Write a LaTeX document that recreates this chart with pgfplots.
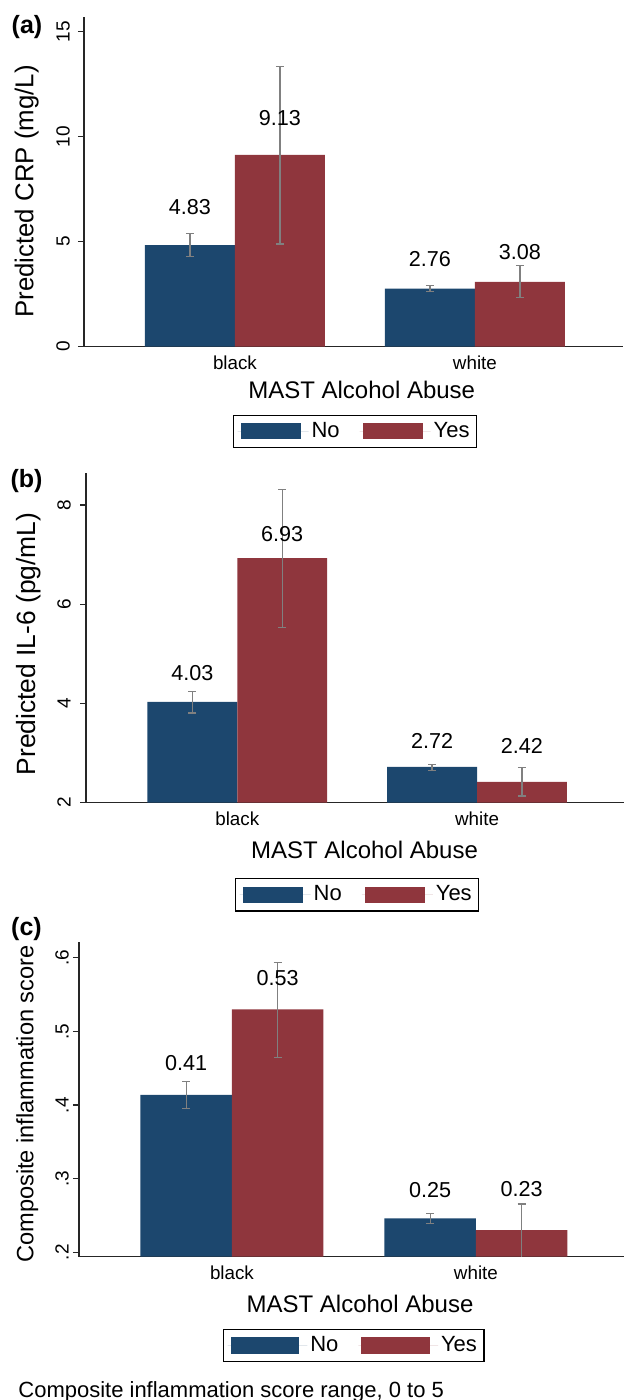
\documentclass[border=0pt]{standalone}
\usepackage{pgfplots}
\pgfplotsset{compat=1.18}
\usepackage{fontspec}
\setmainfont{Liberation Sans}
\definecolor{navyS}{RGB}{28,71,110}
\definecolor{maroonS}{RGB}{143,54,61}
\definecolor{errgray}{RGB}{128,128,128}
\def\legw{30pt}
\pgfplotsset{
  legend image code/.code={\path (-1.5pt,0pt) -- (\legw+4pt,0pt); \fill[#1] (0pt,-4pt) rectangle (\legw,4pt);},
  stpanel/.style={
    scale only axis,
    axis x line*=bottom, axis y line*=left,
    axis line style={black!85, line width=0.6pt},
    xtick={0,1}, xticklabels={black,white},
    x tick style={draw=none},
    y tick style={black!85, line width=0.6pt},
    tick align=outside,
    major tick length=3pt,
    yticklabel style={font=\fontsize{9.5}{11}\selectfont},
    xticklabel style={font=\fontsize{9.4}{11}\selectfont, anchor=base, yshift=-8.3pt},
    /pgf/number format/assume math mode=true,
    legend columns=2,
    legend style={draw=black, line width=0.6pt, font=\fontsize{11}{13}\selectfont,
      anchor=center, inner xsep=2pt, inner ysep=2.5pt,
      nodes={inner xsep=1.5pt, inner ysep=1pt},
      /tikz/every even column/.append style={column sep=8.5pt}},
    clip=true,
  },
  barNo/.style={ybar, bar width=0.375, bar shift=0pt, fill=navyS, draw=none,
    error bars/.cd, y dir=both, y explicit,
    error bar style={draw=errgray, line width=0.6pt},
    error mark options={rotate=90, draw=errgray, line width=0.6pt, mark size=2pt}},
  barYes/.style={ybar, bar width=0.375, bar shift=0pt, fill=maroonS, draw=none,
    error bars/.cd, y dir=both, y explicit,
    error bar style={draw=errgray, line width=0.6pt},
    error mark options={rotate=90, draw=errgray, line width=0.6pt, mark size=2pt}},
  vlab/.style={draw=none, mark=none, forget plot, nodes near coords,
    point meta=explicit symbolic, nodes near coords align={center},
    nodes near coords style={anchor=center, inner sep=0pt, text=black,
      font=\fontsize{10.8}{12}\selectfont}},
}
\begin{document}
\begin{tikzpicture}
\useasboundingbox (0pt,0pt) rectangle (312.5pt,700pt);
% ---------------- panel (a)
\def\legw{30pt}
\begin{axis}[stpanel, at={(42pt,526.65pt)}, anchor=south west,
  width=269.5pt, height=165pt,
  xmin=-0.629, xmax=1.617, ymin=0, ymax=15.71, ytick={0,5,10,15},
  yticklabel style={xshift=-4.15pt, rotate=90, anchor=base},
  legend style={at={(0.5028,-0.257)}}]
\addplot[barNo] coordinates {(-0.1875,4.83) += (0,0.54) -= (0,0.53) (0.8125,2.76) += (0,0.14) -= (0,0.13)};
\addlegendentry{No}
\addplot[barYes] coordinates {(0.1875,9.13) += (0,4.22) -= (0,4.24) (1.1875,3.08) += (0,0.79) -= (0,0.73)};
\addlegendentry{Yes}
\addplot[vlab] coordinates {(-0.1875,6.67) [4.83] (0.1875,10.9) [9.13] (0.8125,4.19) [2.76] (1.1875,4.52) [3.08]};
\end{axis}
% ---------------- panel (b)
\begin{axis}[stpanel, at={(43pt,298.65pt)}, anchor=south west,
  width=269pt, height=164.85pt,
  xmin=-0.631, xmax=1.613, ymin=2, ymax=8.647, ytick={2,4,6,8},
  yticklabel style={xshift=-4.65pt, rotate=90, anchor=base},
  legend style={at={(0.5041,-0.2795)}}]
\addplot[barNo] coordinates {(-0.1875,4.03) += (0,0.21) -= (0,0.22) (0.8125,2.72) += (0,0.054) -= (0,0.067)};
\addlegendentry{No}
\addplot[barYes] coordinates {(0.1875,6.93) += (0,1.39) -= (0,1.40) (1.1875,2.42) += (0,0.286) -= (0,0.285)};
\addlegendentry{Yes}
\addplot[vlab] coordinates {(-0.1875,4.61) [4.03] (0.1875,7.42) [6.93] (0.8125,3.244) [2.72] (1.1875,3.149) [2.42]};
\end{axis}
% ---------------- panel (c)
\def\legw{34.3pt}
\begin{axis}[stpanel, at={(39.5pt,71.65pt)}, anchor=south west,
  width=272.5pt, height=157.5pt,
  xmin=-0.627, xmax=1.607, ymin=0.194, ymax=0.622,
  ytick={0.2,0.3,0.4,0.5,0.6}, yticklabels={.2,.3,.4,.5,.6},
  yticklabel style={xshift=-2.15pt, rotate=90, anchor=base},
  legend style={at={(0.5043,-0.2819)}}]
\addplot[barNo] coordinates {(-0.1875,0.414) += (0,0.0185) -= (0,0.019) (0.8125,0.246) += (0,0.007) -= (0,0.007)};
\addlegendentry{No}
\addplot[barYes] coordinates {(0.1875,0.530) += (0,0.064) -= (0,0.065) (1.1875,0.230) += (0,0.0356) -= (0,0.038)};
\addlegendentry{Yes}
\addplot[vlab] coordinates {(-0.1875,0.457) [0.41] (0.1875,0.5725) [0.53] (0.8125,0.2847) [0.25] (1.1875,0.286) [0.23]};
\end{axis}
% ---------------- texts
\node[anchor=center, font=\fontsize{12.5}{14}\selectfont\bfseries] at (13.5pt,686.25pt) {(a)};
\node[anchor=center, font=\fontsize{12.5}{14}\selectfont\bfseries] at (13.25pt,459.25pt) {(b)};
\node[anchor=center, font=\fontsize{12.5}{14}\selectfont\bfseries] at (13.25pt,235.25pt) {(c)};
\node[anchor=base, inner sep=0pt, font=\fontsize{12}{14}\selectfont] at (180.85pt,500.8pt) {MAST Alcohol Abuse};
\node[anchor=base, inner sep=0pt, font=\fontsize{12}{14}\selectfont] at (182.25pt,270.8pt) {MAST Alcohol Abuse};
\node[anchor=base, inner sep=0pt, font=\fontsize{12}{14}\selectfont] at (180pt,43.8pt) {MAST Alcohol Abuse};
\node[rotate=90, anchor=base, inner sep=0pt, font=\fontsize{12.9}{15}\selectfont] at (16.65pt,604.25pt) {Predicted CRP (mg/L)};
\node[rotate=90, anchor=base, inner sep=0pt, font=\fontsize{13.2}{15}\selectfont] at (17.5pt,378pt) {Predicted IL-6 (pg/mL)};
\node[rotate=90, anchor=base, inner sep=0pt, font=\fontsize{11.8}{14}\selectfont] at (16.65pt,148pt) {Composite inflammation score};
\node[anchor=base west, inner sep=0pt, font=\fontsize{11}{13}\selectfont] at (9pt,1.5pt) {Composite inflammation score range, 0 to 5};
\end{tikzpicture}
\end{document}
